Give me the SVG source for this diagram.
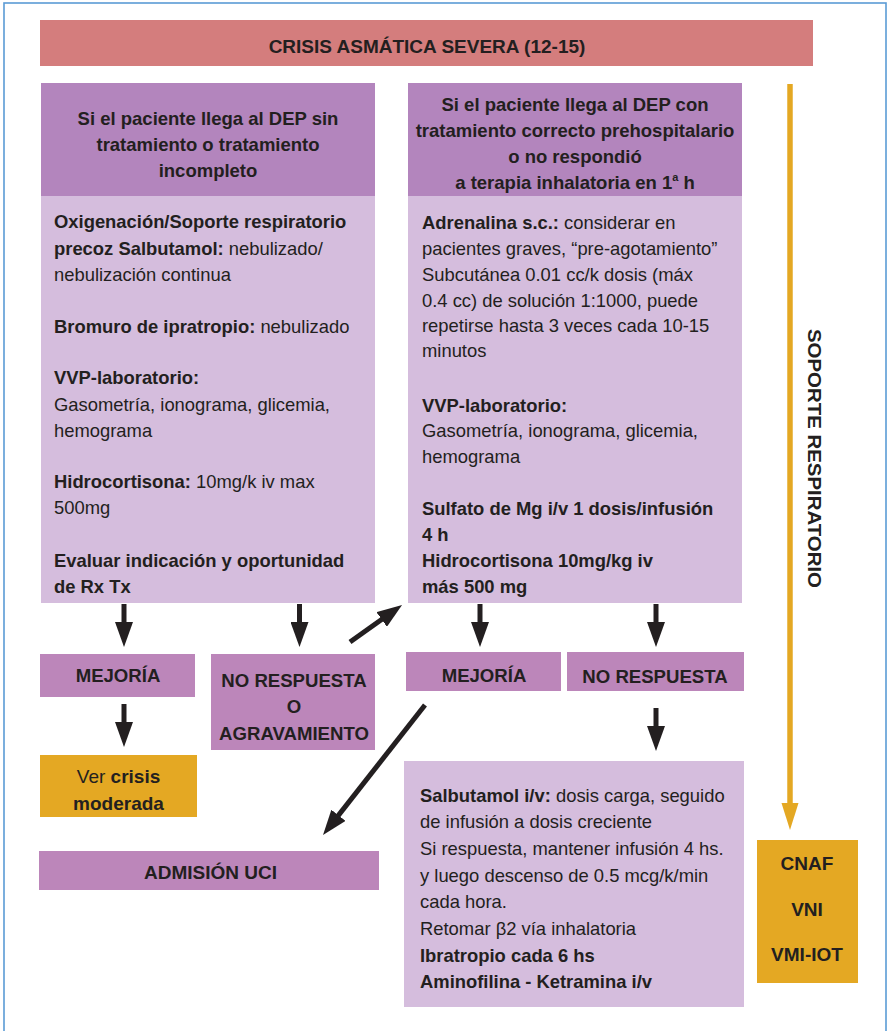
<svg xmlns="http://www.w3.org/2000/svg" width="887" height="1031" viewBox="0 0 887 1031">
<style>
text{font-family:"Liberation Sans",Arial,sans-serif;fill:#231f20}
.h{font-weight:bold;font-size:18.5px;text-anchor:middle}
.t{font-weight:bold;font-size:19px;text-anchor:middle}
.s{font-weight:bold;font-size:18.6px;text-anchor:middle}
.b{font-size:18.4px}
.bb{font-weight:bold}
.nw{font-weight:normal}
.hd{fill:#b385bd}
.lt{fill:#d5bddd}
.sm{fill:#bc86ba}
.or{fill:#e4a823}
.ar{stroke:#231f20;stroke-width:5;fill:none}
</style>
<defs>
<marker id="ah" markerUnits="userSpaceOnUse" markerWidth="26" markerHeight="18" refX="15" refY="9" orient="auto">
<path d="M0,0 L25,9 L0,18 z" fill="#231f20"/>
</marker>
<marker id="ao" markerUnits="userSpaceOnUse" markerWidth="28" markerHeight="18" refX="17" refY="8.5" orient="auto">
<path d="M0,0 L27,8.5 L0,17 z" fill="#e4a823"/>
</marker>
</defs>
<rect x="0" y="0" width="887" height="1031" fill="#ffffff"/>
<rect x="4" y="3" width="882" height="1040" fill="none" stroke="#5b9bd5" stroke-width="1.6"/>

<g id="title">
<rect x="40" y="20" width="773" height="46" fill="#d47d7d"/>
<text class="t" x="427" y="53">CRISIS ASMÁTICA SEVERA (12-15)</text>
</g>

<g id="left-header">
<rect class="hd" x="41" y="83" width="334" height="113"/>
<text class="h" x="208" y="125">Si el paciente llega al DEP sin</text>
<text class="h" x="208" y="151">tratamiento o tratamiento</text>
<text class="h" x="208" y="177">incompleto</text>
</g>

<g id="left-body">
<rect class="lt" x="41" y="196" width="334" height="407"/>
<text class="b" x="54" y="228"><tspan class="bb">Oxigenación/Soporte respiratorio</tspan></text>
<text class="b" x="54" y="255"><tspan class="bb">precoz Salbutamol:</tspan> nebulizado/</text>
<text class="b" x="54" y="281">nebulización continua</text>
<text class="b" x="54" y="333"><tspan class="bb">Bromuro de ipratropio:</tspan> nebulizado</text>
<text class="b" x="54" y="384"><tspan class="bb">VVP-laboratorio:</tspan></text>
<text class="b" x="54" y="411">Gasometría, ionograma, glicemia,</text>
<text class="b" x="54" y="437">hemograma</text>
<text class="b" x="54" y="488"><tspan class="bb">Hidrocortisona:</tspan> 10mg/k iv max</text>
<text class="b" x="54" y="514">500mg</text>
<text class="b" x="54" y="567"><tspan class="bb">Evaluar indicación y oportunidad</tspan></text>
<text class="b" x="54" y="593"><tspan class="bb">de Rx Tx</tspan></text>
</g>

<g id="right-header">
<rect class="hd" x="408" y="83" width="334" height="113"/>
<text class="h" x="575" y="111">Si el paciente llega al DEP con</text>
<text class="h" x="575" y="137">tratamiento correcto prehospitalario</text>
<text class="h" x="575" y="163">o no respondió</text>
<text class="h" x="575" y="189">a terapia inhalatoria en 1<tspan font-size="11" dy="-8">a</tspan><tspan dy="8"> h</tspan></text>
</g>

<g id="right-body">
<rect class="lt" x="408" y="196" width="334" height="407"/>
<text class="b" x="422" y="229"><tspan class="bb">Adrenalina s.c.:</tspan> considerar en</text>
<text class="b" x="422" y="255">pacientes graves, “pre-agotamiento”</text>
<text class="b" x="422" y="281">Subcutánea 0.01 cc/k dosis (máx</text>
<text class="b" x="422" y="307">0.4 cc) de solución 1:1000, puede</text>
<text class="b" x="422" y="332">repetirse hasta 3 veces cada 10-15</text>
<text class="b" x="422" y="357">minutos</text>
<text class="b" x="422" y="412"><tspan class="bb">VVP-laboratorio:</tspan></text>
<text class="b" x="422" y="437">Gasometría, ionograma, glicemia,</text>
<text class="b" x="422" y="463">hemograma</text>
<text class="b" x="422" y="515"><tspan class="bb">Sulfato de Mg i/v 1 dosis/infusión</tspan></text>
<text class="b" x="422" y="541"><tspan class="bb">4 h</tspan></text>
<text class="b" x="422" y="567"><tspan class="bb">Hidrocortisona 10mg/kg iv</tspan></text>
<text class="b" x="422" y="593"><tspan class="bb">más 500 mg</tspan></text>
</g>

<g id="mejoria-left">
<rect class="sm" x="40" y="654" width="155" height="43"/>
<text class="s" x="118" y="682">MEJORÍA</text>
</g>

<g id="no-respuesta-agravamiento">
<rect class="sm" x="211" y="654" width="164" height="96"/>
<text class="s" x="294" y="687">NO RESPUESTA</text>
<text class="s" x="294" y="713">O</text>
<text class="s" x="294" y="740">AGRAVAMIENTO</text>
</g>

<g id="mejoria-right">
<rect class="sm" x="406" y="652" width="155" height="39"/>
<text class="s" x="484" y="682">MEJORÍA</text>
</g>

<g id="no-respuesta-right">
<rect class="sm" x="567" y="652" width="177" height="39"/>
<text class="s" x="655" y="683">NO RESPUESTA</text>
</g>

<g id="ver-crisis">
<rect class="or" x="40" y="755" width="157" height="62"/>
<text class="t" x="118.5" y="783"><tspan class="nw">Ver </tspan>crisis</text>
<text class="t" x="118.5" y="810">moderada</text>
</g>

<g id="admision-uci">
<rect class="sm" x="39" y="851" width="340" height="39"/>
<text class="t" x="210.5" y="879">ADMISIÓN UCI</text>
</g>

<g id="salbutamol">
<rect class="lt" x="404" y="761" width="340" height="246"/>
<text class="b" x="420" y="802"><tspan class="bb">Salbutamol i/v:</tspan> dosis carga, seguido</text>
<text class="b" x="420" y="828">de infusión a dosis creciente</text>
<text class="b" x="420" y="855">Si respuesta, mantener infusión 4 hs.</text>
<text class="b" x="420" y="882">y luego descenso de 0.5 mcg/k/min</text>
<text class="b" x="420" y="908">cada hora.</text>
<text class="b" x="420" y="935">Retomar β2 vía inhalatoria</text>
<text class="b" x="420" y="962"><tspan class="bb">Ibratropio cada 6 hs</tspan></text>
<text class="b" x="420" y="988"><tspan class="bb">Aminofilina - Ketramina i/v</tspan></text>
</g>

<g id="soporte-label">
<text class="t" font-size="22" transform="translate(808,458.5) rotate(90)" x="0" y="0" textLength="259" lengthAdjust="spacingAndGlyphs">SOPORTE RESPIRATORIO</text>
</g>

<g id="cnaf">
<rect class="or" x="757" y="840" width="101" height="143"/>
<text class="t" x="807" y="870">CNAF</text>
<text class="t" x="807" y="916">VNI</text>
<text class="t" x="807" y="961">VMI-IOT</text>
</g>

<g id="connectors">
<line class="ar" x1="124" y1="604" x2="124" y2="637" marker-end="url(#ah)"/>
<line class="ar" x1="299.5" y1="604" x2="299.5" y2="637" marker-end="url(#ah)"/>
<line class="ar" x1="350" y1="642" x2="393.9" y2="610.8" marker-end="url(#ah)"/>
<line class="ar" x1="480" y1="604" x2="480" y2="637" marker-end="url(#ah)"/>
<line class="ar" x1="656" y1="604" x2="656" y2="637" marker-end="url(#ah)"/>
<line class="ar" x1="124" y1="704" x2="124" y2="737" marker-end="url(#ah)"/>
<line class="ar" x1="656" y1="708" x2="656" y2="741" marker-end="url(#ah)"/>
<line class="ar" x1="425" y1="705" x2="329.2" y2="827.1" marker-end="url(#ah)"/>
<line x1="790" y1="84" x2="790" y2="820" stroke="#e4a823" stroke-width="5.5" marker-end="url(#ao)"/>
</g>
</svg>
